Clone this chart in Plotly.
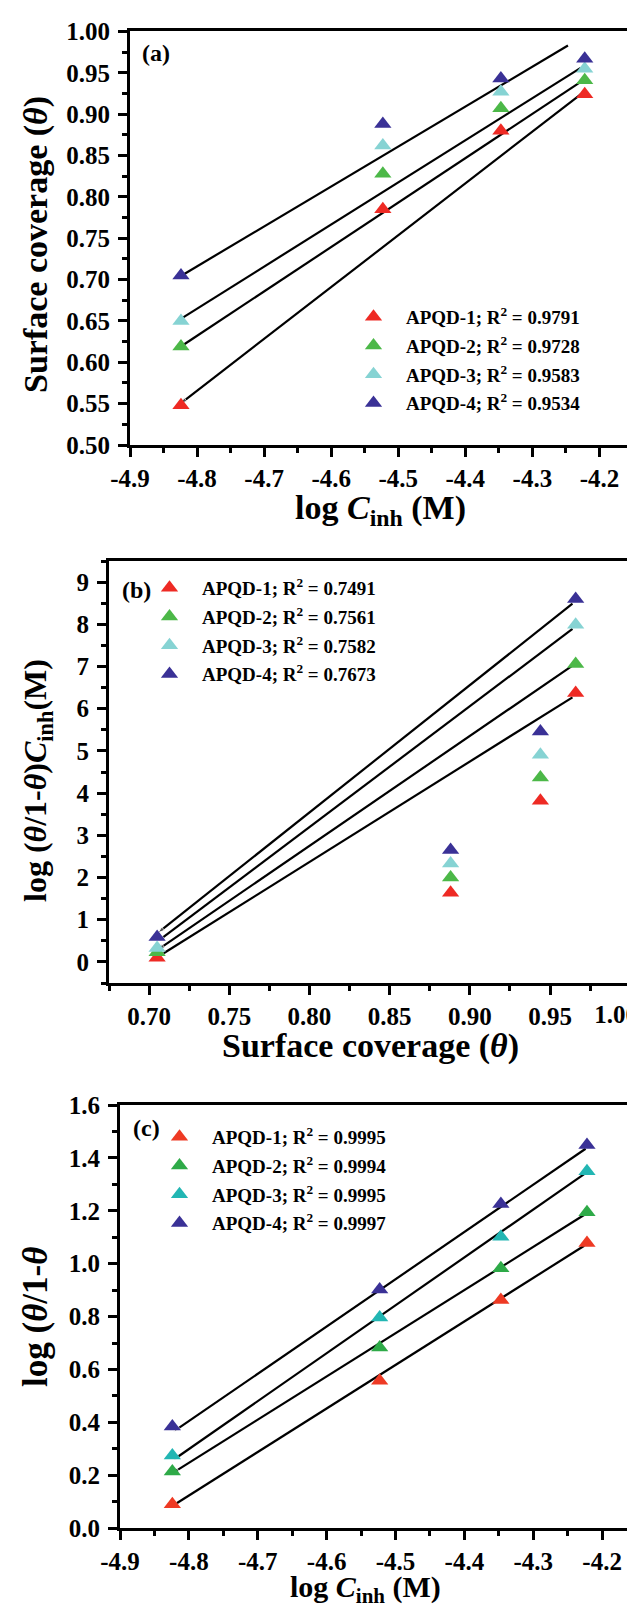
import plotly.graph_objects as go

W, H = 635, 1609
FONT = "Liberation Serif"

# ---------------- data ----------------
series_names = ["APQD-1", "APQD-2", "APQD-3", "APQD-4"]
colors_ab = ["#ee2a24", "#4cb848", "#86d3d3", "#3a3196"]
colors_c = ["#ee3a24", "#2eaa48", "#22b6b3", "#3a3196"]

log_c = [-4.824, -4.523, -4.347, -4.222]

# panel (a): surface coverage vs log C
theta_1 = [0.548, 0.785, 0.880, 0.924]
theta_2 = [0.619, 0.828, 0.907, 0.941]
theta_3 = [0.650, 0.862, 0.927, 0.955]
theta_4 = [0.705, 0.888, 0.943, 0.967]
r2_a = ["0.9791", "0.9728", "0.9583", "0.9534"]
# fitted lines (left end, right end) as drawn
fit_a_x = [[-4.825, -4.228], [-4.828, -4.228], [-4.831, -4.228], [-4.829, -4.247]]
fit_a_y = [[0.550, 0.924], [0.617, 0.939], [0.649, 0.956], [0.702, 0.983]]

# panel (b)
theta_b = [0.705, 0.888, 0.944, 0.966]
freund_1 = [0.10, 1.64, 3.82, 6.37]
freund_2 = [0.23, 2.00, 4.37, 7.06]
freund_3 = [0.33, 2.33, 4.91, 7.99]
freund_4 = [0.59, 2.65, 5.46, 8.60]
r2_b = ["0.7491", "0.7561", "0.7582", "0.7673"]
fit_b_x = [[0.7055, 0.964], [0.7055, 0.964], [0.7055, 0.964], [0.7055, 0.964]]
fit_b_y = [[0.12, 6.27], [0.29, 7.02], [0.49, 7.89], [0.69, 8.49]]

# panel (c)
lang_1 = [0.090, 0.557, 0.863, 1.078]
lang_2 = [0.214, 0.683, 0.983, 1.195]
lang_3 = [0.274, 0.796, 1.102, 1.350]
lang_4 = [0.384, 0.902, 1.226, 1.449]
r2_c = ["0.9995", "0.9994", "0.9995", "0.9997"]
fit_c_x = [[-4.826, -4.226], [-4.824, -4.224], [-4.823, -4.224], [-4.822, -4.224]]
fit_c_y = [[0.080, 1.068], [0.207, 1.188], [0.257, 1.343], [0.365, 1.435]]

# ticks
logc_ticks = [-4.9, -4.8, -4.7, -4.6, -4.5, -4.4, -4.3, -4.2]
logc_ticktext = ["-4.9", "-4.8", "-4.7", "-4.6", "-4.5", "-4.4", "-4.3", "-4.2"]
a_yticks = [0.50, 0.55, 0.60, 0.65, 0.70, 0.75, 0.80, 0.85, 0.90, 0.95, 1.00]
a_yticktext = ["0.50", "0.55", "0.60", "0.65", "0.70", "0.75", "0.80", "0.85", "0.90", "0.95", "1.00"]
b_xticks = [0.70, 0.75, 0.80, 0.85, 0.90, 0.95, 1.00]
b_xticktext = ["0.70", "0.75", "0.80", "0.85", "0.90", "0.95", "1.00"]
b_yticks = [0, 1, 2, 3, 4, 5, 6, 7, 8, 9]
b_yticktext = ["0", "1", "2", "3", "4", "5", "6", "7", "8", "9"]
c_yticks = [0.0, 0.2, 0.4, 0.6, 0.8, 1.0, 1.2, 1.4, 1.6]
c_yticktext = ["0.0", "0.2", "0.4", "0.6", "0.8", "1.0", "1.2", "1.4", "1.6"]

# titles
xtitle_logc = "log <i>C</i><sub>inh</sub> (M)"
ytitle_a = "Surface coverage (<i>θ</i>)"
xtitle_b = "Surface coverage (<i>θ</i>)"
ytitle_b = "log (<i>θ</i>/1-<i>θ</i>)<i>C</i><sub>inh</sub>(M)"
ytitle_c = "log (<i>θ</i>/1-<i>θ</i>"
panel_tags = ["(a)", "(b)", "(c)"]

# ---------------- layout helpers ----------------
def px_x(p):
    return p / W

def px_y(p):
    return 1 - p / H

fig = go.Figure()

panels = [
    dict(xa="x", ya="y", legend="legend", xs=log_c, ys=[theta_1, theta_2, theta_3, theta_4],
         r2=r2_a, fx=fit_a_x, fy=fit_a_y, colors=colors_ab),
    dict(xa="x2", ya="y2", legend="legend2", xs=theta_b, ys=[freund_1, freund_2, freund_3, freund_4],
         r2=r2_b, fx=fit_b_x, fy=fit_b_y, colors=colors_ab),
    dict(xa="x3", ya="y3", legend="legend3", xs=log_c, ys=[lang_1, lang_2, lang_3, lang_4],
         r2=r2_c, fx=fit_c_x, fy=fit_c_y, colors=colors_c),
]

for k, p in enumerate(panels):
    for i in range(4):
        # fit line, drawn right-to-left so an arrow head sits at the left end
        fig.add_trace(go.Scatter(
            x=[p["fx"][i][1], p["fx"][i][0]], y=[p["fy"][i][1], p["fy"][i][0]],
            mode="lines+markers", xaxis=p["xa"], yaxis=p["ya"],
            line=dict(color="black", width=2.2),
            marker=dict(symbol="arrow", angleref="previous", size=[0, 7], color="black"),
            showlegend=False, hoverinfo="skip"))
    for i in range(4):
        fig.add_trace(go.Scatter(
            x=p["xs"], y=p["ys"][i], mode="markers", xaxis=p["xa"], yaxis=p["ya"],
            name=f"{series_names[i]}; R<sup>2</sup> = {p['r2'][i]}",
            marker=dict(symbol="triangle-up", size=15, color=p["colors"][i]),
            legend=p["legend"], legendgroup=f"g{k}{i}"))

# invisible companion of panel (b) on the overlaying axis that carries the "1.00" label
fig.add_trace(go.Scatter(x=theta_b, y=freund_4, mode="markers", xaxis="x4", yaxis="y2",
                         marker=dict(opacity=0, size=1), showlegend=False, hoverinfo="skip"))

tickfont = dict(family=FONT, size=25, color="black", weight="bold")

def axis(domain, rng, tickvals, ticktext, minor_dtick, minor_tick0, anchor, standoff):
    return dict(
        domain=domain, range=rng, tickmode="array", tickvals=tickvals, ticktext=ticktext,
        ticks="outside", ticklen=9, tickwidth=2.5, tickcolor="black",
        showline=True, linewidth=3, linecolor="black", mirror=True,
        showgrid=False, zeroline=False, tickfont=tickfont, automargin=False,
        ticklabelstandoff=standoff,
        minor=dict(tickmode="linear", tick0=minor_tick0, dtick=minor_dtick,
                   ticks="outside", ticklen=5, tickwidth=2.5, tickcolor="black", showgrid=False),
        anchor=anchor)

# panel boxes in pixels: (left, right, top, bottom)
box_a = (122, 625, 23, 437)
box_b = (101, 623, 553, 975)
box_c = (112, 632, 1097, 1520)

def dom_x(b):
    return [px_x(b[0]), px_x(b[1])]

def dom_y(b):
    return [px_y(b[3]), px_y(b[2])]

# last tick label of panel (b) sits against the right edge: it is drawn by an
# overlaying axis with identical geometry, shifted left so it stays on the page
b_xticktext_axis = b_xticktext[:-1] + [""]
b_range = [0.675, 1.0005]

xaxis4 = axis(dom_x(box_b), b_range, [b_xticks[-1]], [b_xticktext[-1]], 0.025, 0.7, "y2", 0)
xaxis4.update(overlaying="x2", showline=False, tickcolor="rgba(0,0,0,0)",
              minor=dict(ticks=""), ticklabelshift=-14, ticklabeloverflow="allow",
              fixedrange=True)

fig.update_layout(
    width=W, height=H, margin=dict(l=0, r=0, t=0, b=0),
    paper_bgcolor="white", plot_bgcolor="white",
    font=dict(family=FONT, color="black"),
    xaxis=axis(dom_x(box_a), [-4.9, -4.15], logc_ticks, logc_ticktext, 0.05, -4.9, "y", 0),
    yaxis=axis(dom_y(box_a), [0.5, 1.0005], a_yticks, a_yticktext, 0.025, 0.5, "x", 3),
    xaxis2=axis(dom_x(box_b), b_range, b_xticks, b_xticktext_axis, 0.025, 0.7, "y2", 0),
    yaxis2=axis(dom_y(box_b), [-0.5, 9.5], b_yticks, b_yticktext, 0.5, 0, "x2", 3),
    xaxis3=axis(dom_x(box_c), [-4.9, -4.145], logc_ticks, logc_ticktext, 0.05, -4.9, "y3", 0),
    yaxis3=axis(dom_y(box_c), [0.0, 1.6005], c_yticks, c_yticktext, 0.1, 0.0, "x3", 3),
    xaxis4=xaxis4,
)

legend_font = dict(family=FONT, size=19, color="black", weight="bold")
def legend(xpix, ypix):
    return dict(x=px_x(xpix), y=px_y(ypix), xanchor="left", yanchor="top",
                bgcolor="rgba(0,0,0,0)", borderwidth=0, font=legend_font,
                itemsizing="trace", tracegroupgap=1, itemwidth=55)

fig.update_layout(legend=legend(333, 290), legend2=legend(129, 561), legend3=legend(139, 1110))

def text_ann(txt, xp, yp, size, angle=0, xanchor="center", yanchor="middle"):
    fig.add_annotation(text=txt, x=px_x(xp), y=px_y(yp), xref="paper", yref="paper",
                       xanchor=xanchor, yanchor=yanchor, showarrow=False, textangle=angle,
                       font=dict(family=FONT, size=size, color="black", weight="bold"))

# axis titles
text_ann(xtitle_logc, 372, 479, 34, yanchor="top")
text_ann(ytitle_a, 28, 237, 34, angle=-90)
text_ann(xtitle_b, 362, 1017, 34, yanchor="top")
text_ann(ytitle_b, 29, 773, 32, angle=-90)
text_ann(xtitle_logc, 357, 1602, 30, yanchor="bottom")
text_ann(ytitle_c, 27, 1309, 35, angle=-90)

# panel tags
for txt, xp, yp in zip(panel_tags, [132, 112, 123], [45, 582, 1120]):
    text_ann(txt, xp, yp, 24, xanchor="left")

fig.write_html("out.html")
